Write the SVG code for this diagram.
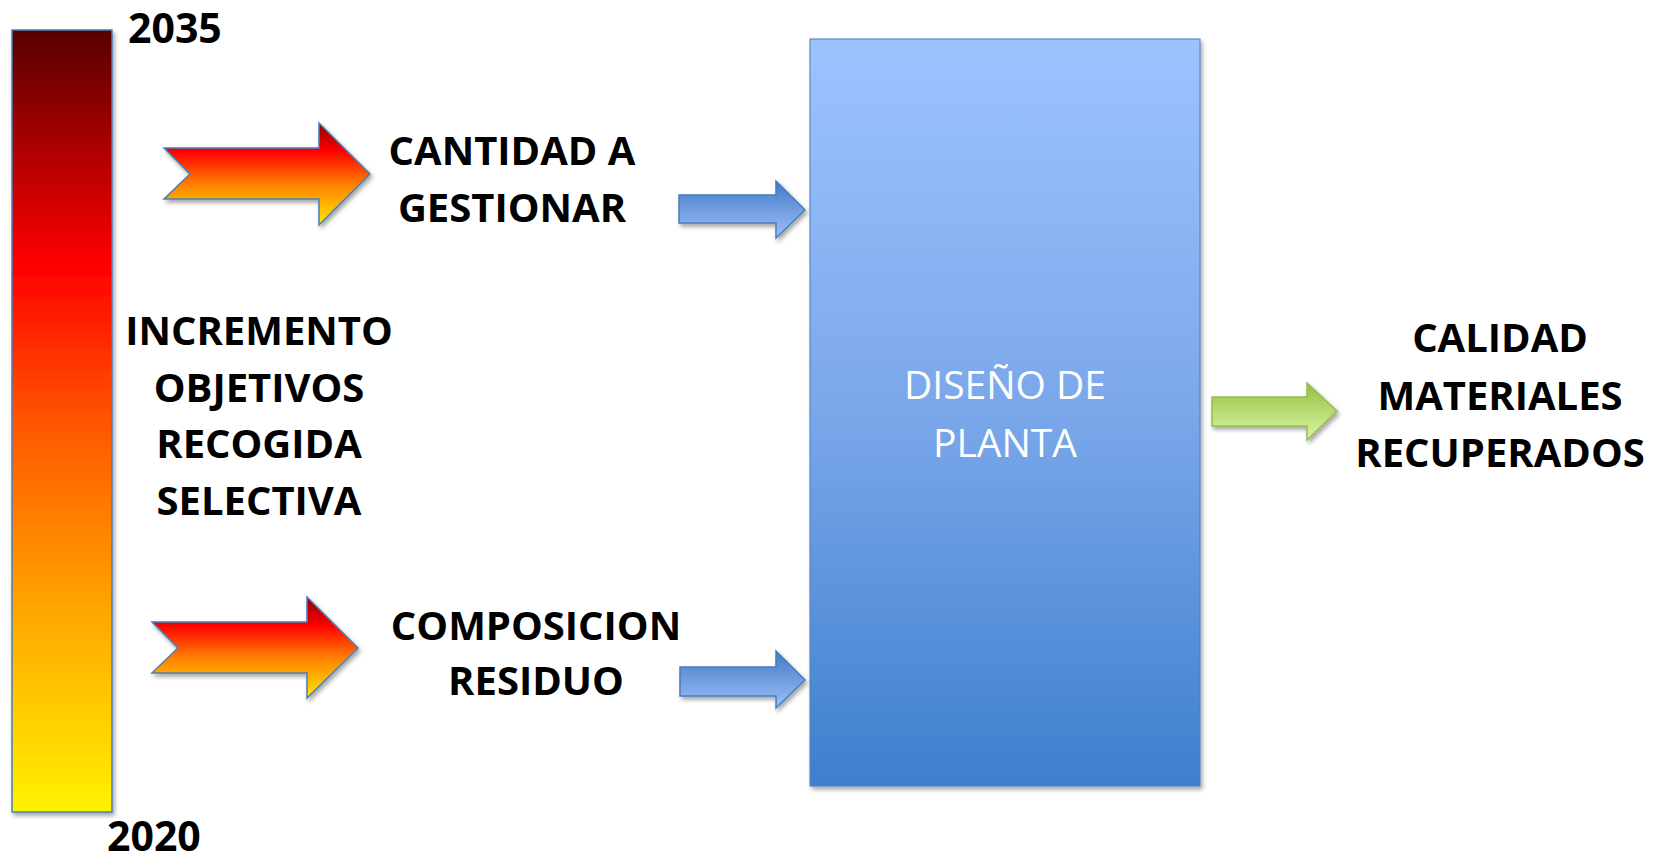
<svg xmlns="http://www.w3.org/2000/svg" width="1653" height="856" viewBox="0 0 1653 856">
  <defs>
    <linearGradient id="gBar" x1="0" y1="0" x2="0" y2="1">
      <stop offset="0" stop-color="#560606"/>
      <stop offset="0.3" stop-color="#ff0000"/>
      <stop offset="0.5" stop-color="#ff5500"/>
      <stop offset="0.75" stop-color="#ffa800"/>
      <stop offset="1" stop-color="#fff200"/>
    </linearGradient>
    <linearGradient id="gFire" x1="0" y1="0" x2="0" y2="1">
      <stop offset="0" stop-color="#8b0000"/>
      <stop offset="0.28" stop-color="#ff0000"/>
      <stop offset="0.6" stop-color="#ff8000"/>
      <stop offset="1" stop-color="#ffe800"/>
    </linearGradient>
    <linearGradient id="gBlueArrow" x1="0" y1="0" x2="0" y2="1">
      <stop offset="0" stop-color="#4279c8"/>
      <stop offset="1" stop-color="#9dc0f8"/>
    </linearGradient>
    <linearGradient id="gGreenArrow" x1="0" y1="0" x2="0" y2="1">
      <stop offset="0" stop-color="#93c041"/>
      <stop offset="1" stop-color="#dcf7a6"/>
    </linearGradient>
    <linearGradient id="gBox" x1="0" y1="0" x2="0" y2="1">
      <stop offset="0" stop-color="#9dc3ff"/>
      <stop offset="0.5" stop-color="#7aa7ea"/>
      <stop offset="1" stop-color="#3e7fcd"/>
    </linearGradient>
    <filter id="shadow" x="-10%" y="-10%" width="130%" height="130%">
      <feDropShadow dx="2" dy="3" stdDeviation="2" flood-color="#000" flood-opacity="0.35"/>
    </filter>
  </defs>
  <style>
    .lbl { font-family: "Open Sans", "Liberation Sans", sans-serif; font-weight: bold; font-size: 40px; fill: #000; text-anchor: middle; }
    .year { font-family: "Open Sans", "Liberation Sans", sans-serif; font-weight: bold; font-size: 41px; fill: #000; }
    .box-lbl { font-family: "Open Sans", "Liberation Sans", sans-serif; font-size: 39px; fill: #fff; text-anchor: middle; }
    .blue-stroke { stroke: #4a7ebb; stroke-width: 1.5; }
    .green-stroke { stroke: #98b954; stroke-width: 1.5; }
  </style>
  <rect width="1653" height="856" fill="#fff"/>

  <g id="bar">
    <rect x="12" y="30" width="100" height="782" fill="url(#gBar)" class="blue-stroke" filter="url(#shadow)"/>
    <text class="year" x="128" y="43">2035</text>
    <text class="year" x="107" y="851">2020</text>
  </g>

  <g id="incremento">
    <text class="lbl" x="259" y="345">INCREMENTO</text>
    <text class="lbl" x="259" y="402">OBJETIVOS</text>
    <text class="lbl" x="259" y="458">RECOGIDA</text>
    <text class="lbl" x="259" y="515">SELECTIVA</text>
  </g>

  <g id="cantidad">
    <text class="lbl" x="512" y="165">CANTIDAD A</text>
    <text class="lbl" x="512" y="222">GESTIONAR</text>
  </g>

  <g id="composicion">
    <text class="lbl" x="536" y="640">COMPOSICION</text>
    <text class="lbl" x="536" y="695">RESIDUO</text>
  </g>

  <g id="diseno">
    <rect x="810" y="39" width="390" height="747" fill="url(#gBox)" stroke="#4a7ebb" stroke-width="1" filter="url(#shadow)"/>
    <text class="box-lbl" x="1005" y="399">DISEÑO DE</text>
    <text class="box-lbl" x="1005" y="457">PLANTA</text>
  </g>

  <g id="calidad">
    <text class="lbl" x="1500" y="352">CALIDAD</text>
    <text class="lbl" x="1500" y="410">MATERIALES</text>
    <text class="lbl" x="1500" y="467">RECUPERADOS</text>
  </g>

  <g id="connectors">
    <polygon points="164,148 319,148 319,123 370,174 319,225 319,199 164,199 190,174" fill="url(#gFire)" class="blue-stroke" filter="url(#shadow)"/>
    <polygon points="152,622 307,622 307,597 358,648 307,698 307,673 152,673 178,648" fill="url(#gFire)" class="blue-stroke" filter="url(#shadow)"/>
    <polygon points="679,195 776,195 776,181 805,210 776,238 776,223 679,223" fill="url(#gBlueArrow)" class="blue-stroke" filter="url(#shadow)"/>
    <polygon points="680,667 776,667 776,651 805,680 776,708 776,696 680,696" fill="url(#gBlueArrow)" class="blue-stroke" filter="url(#shadow)"/>
    <polygon points="1212,397 1307,397 1307,383 1337,411 1307,440 1307,426 1212,426" fill="url(#gGreenArrow)" class="green-stroke" filter="url(#shadow)"/>
  </g>
</svg>
